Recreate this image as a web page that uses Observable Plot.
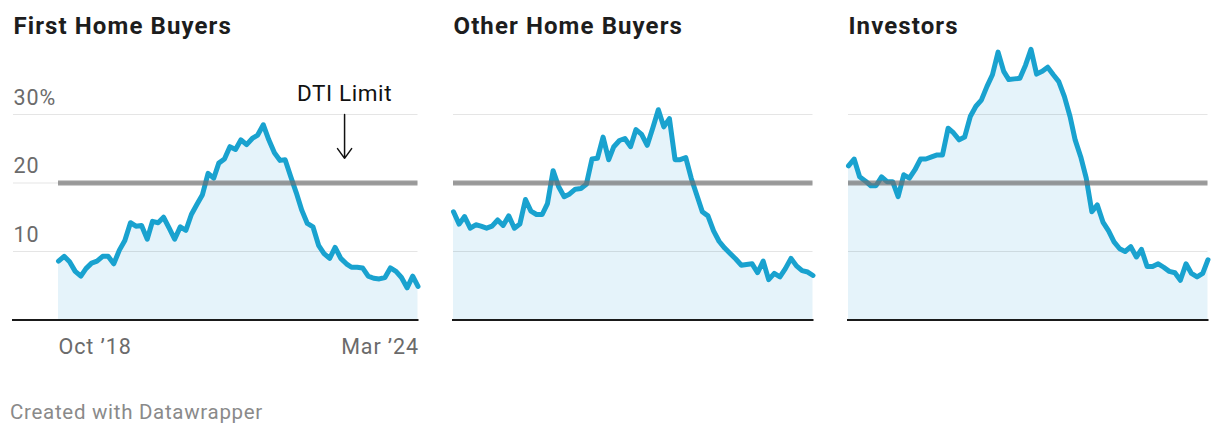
<!DOCTYPE html>
<html><head><meta charset="utf-8">
<script src="https://cdn.jsdelivr.net/npm/d3@7"></script>
<script src="https://cdn.jsdelivr.net/npm/@observablehq/plot@0.6"></script>
<style>
body{margin:0;background:#fff;font-family:Roboto,sans-serif;width:1220px;height:436px;overflow:hidden;position:relative}
.panel{position:absolute;top:0}
.footer{position:absolute;left:10px;top:402px;font-size:20.5px;line-height:20px;letter-spacing:0.7px;color:#8a8a8a;white-space:nowrap}
</style></head><body>
<div id="chart"></div>
<div class="footer">Created with Datawrapper</div>
<script>
// ---- data ----
const firstMonth = "2018-10-01";
const lastMonth = "2024-03-01";
const panelTitles = ["First Home Buyers", "Other Home Buyers", "Investors"];
const firstHomeBuyers = [8.6, 9.3, 8.5, 7.1, 6.4, 7.5, 8.3, 8.6, 9.3, 9.3, 8.2, 10.2, 11.6, 14.2, 13.7, 13.8, 11.8, 14.4, 14.2, 15.0, 13.4, 11.8, 13.6, 13.1, 15.4, 16.9, 18.3, 21.4, 20.7, 22.9, 23.5, 25.3, 24.9, 26.3, 25.6, 26.5, 27.0, 28.5, 26.3, 24.4, 23.3, 23.4, 20.9, 18.6, 16.0, 14.1, 13.6, 10.9, 9.7, 9.0, 10.6, 9.0, 8.2, 7.7, 7.7, 7.6, 6.4, 6.1, 6.0, 6.2, 7.6, 7.1, 6.2, 4.7, 6.4, 4.9];
const otherHomeBuyers = [15.8, 14.0, 15.1, 13.4, 13.9, 13.7, 13.4, 13.7, 14.6, 13.8, 15.2, 13.4, 14.0, 17.6, 15.9, 15.4, 15.4, 17.0, 21.8, 19.5, 18.0, 18.4, 19.1, 19.2, 19.8, 23.5, 23.6, 26.7, 23.4, 25.3, 26.2, 26.5, 25.3, 27.8, 27.1, 25.5, 28.0, 30.7, 28.2, 29.4, 23.4, 23.4, 23.7, 20.7, 18.2, 15.8, 15.2, 13.0, 11.5, 10.5, 9.7, 8.9, 8.0, 8.1, 8.2, 6.9, 8.6, 5.9, 6.8, 6.3, 7.5, 9.0, 7.9, 7.2, 7.0, 6.5];
const investors = [22.5, 23.5, 20.9, 20.3, 19.6, 19.6, 20.9, 20.2, 20.2, 18.0, 21.2, 20.7, 21.9, 23.5, 23.5, 23.8, 24.1, 24.1, 28.0, 27.3, 26.3, 26.7, 29.7, 31.2, 32.1, 34.1, 35.8, 39.1, 36.3, 35.1, 35.2, 35.3, 37.2, 39.5, 35.9, 36.3, 36.9, 35.8, 34.8, 32.6, 29.7, 26.3, 23.8, 20.7, 15.8, 16.8, 14.3, 13.0, 11.4, 10.4, 10.0, 10.7, 9.2, 10.3, 7.8, 7.8, 8.2, 7.7, 7.1, 6.9, 5.8, 8.2, 6.8, 6.3, 6.8, 8.8];
const dtiLimit = [20];
const yTickValues = [10, 20, 30];
const yTickLabels = ["10", "20", "30%"];
const xTickLabels = ["Oct ’18", "Mar ’24"];
const annotationText = ["DTI Limit"];
const annotationDate = ["2023-01-22"];
const annotationFrom = [30];
const annotationTo = [23.6];

// ---- build ----
const months = d3.utcMonth.range(new Date(firstMonth), d3.utcMonth.offset(new Date(lastMonth), 1));
const seriesList = [firstHomeBuyers, otherHomeBuyers, investors];
const layout = [
  {left: 0, width: 430, ml: 58, mr: 12.5},
  {left: 440, width: 385, ml: 13, mr: 12.5},
  {left: 835, width: 385, ml: 13, mr: 12.5}
];
const root = document.getElementById("chart");
const lineColor = "#19a2cf";
const fillColor = "#e5f3fa";
const spacingBySize = {"24": "1.1px", "21.5": "0.9px", "22.5": "0.6px"};

seriesList.forEach((vals, k) => {
  const L = layout[k];
  const first = k === 0;
  const rows = months.map((d, i) => ({date: d, value: vals[i]}));
  const ticks = yTickValues.map((v, i) => ({v, label: yTickLabels[i]}));
  const ann = annotationText.map((t, i) => ({text: t, date: new Date(annotationDate[i]), y1: annotationFrom[i], y2: annotationTo[i]}));
  const labelInset = first ? -45 : 0;
  const marks = [
    Plot.areaY(rows, {x: "date", y: "value", fill: fillColor}),
    Plot.ruleY(yTickValues, {stroke: "#000", strokeOpacity: 0.1, strokeWidth: 1, insetLeft: labelInset}),
    Plot.lineY(rows, {x: "date", y: "value", stroke: lineColor, strokeWidth: 5, strokeLinejoin: "round", strokeLinecap: "round"}),
    Plot.ruleY(dtiLimit, {stroke: "#6f6f6f", strokeOpacity: 0.68, strokeWidth: 5}),
    Plot.ruleY([0], {stroke: "#1a1a1a", strokeWidth: 2.2, insetLeft: labelInset - 1, insetRight: -1}),
    Plot.text([panelTitles[k]], {frameAnchor: "top-left", text: d => d, dx: labelInset, dy: -12.2, lineAnchor: "bottom", textAnchor: "start", fontWeight: 700, fontSize: 24, fill: "#1d1d1d"})
  ];
  if (first) {
    marks.push(
      Plot.text(ticks, {y: "v", text: "label", frameAnchor: "left", dx: labelInset, dy: -10, lineAnchor: "bottom", textAnchor: "start", fill: "#6b6b6b", fontSize: 21.5}),
      Plot.text([xTickLabels[0]], {x: () => months[0], y: () => 0, text: d => d, textAnchor: "start", dy: 34, lineAnchor: "bottom", fill: "#6b6b6b", fontSize: 21.5}),
      Plot.text([xTickLabels[1]], {x: () => months[months.length - 1], y: () => 0, text: d => d, textAnchor: "end", dx: 1, dy: 34, lineAnchor: "bottom", fill: "#6b6b6b", fontSize: 21.5}),
      Plot.arrow(ann, {x1: "date", x2: "date", y1: "y1", y2: "y2", stroke: "#111", strokeWidth: 1.5, headLength: 12, headAngle: 72}),
      Plot.text(ann, {x: "date", y: "y1", text: "text", dy: -14, lineAnchor: "bottom", textAnchor: "middle", fill: "#111", fontSize: 22.5})
    );
  }
  const chart = Plot.plot({
    width: L.width, height: 360,
    marginLeft: L.ml, marginRight: L.mr, marginTop: 45.5, marginBottom: 40.5,
    x: {type: "utc", domain: [months[0], months[months.length - 1]], axis: null},
    y: {domain: [0, 40], axis: null},
    style: {fontFamily: "Roboto, sans-serif", background: "transparent", overflow: "visible"},
    marks
  });
  chart.querySelectorAll("g[aria-label='text']").forEach(g => {
    const fs = g.getAttribute("font-size");
    if (spacingBySize[fs]) g.setAttribute("letter-spacing", spacingBySize[fs]);
  });
  const div = document.createElement("div");
  div.className = "panel";
  div.style.left = L.left + "px";
  div.appendChild(chart);
  root.appendChild(div);
});
</script>
</body></html>
